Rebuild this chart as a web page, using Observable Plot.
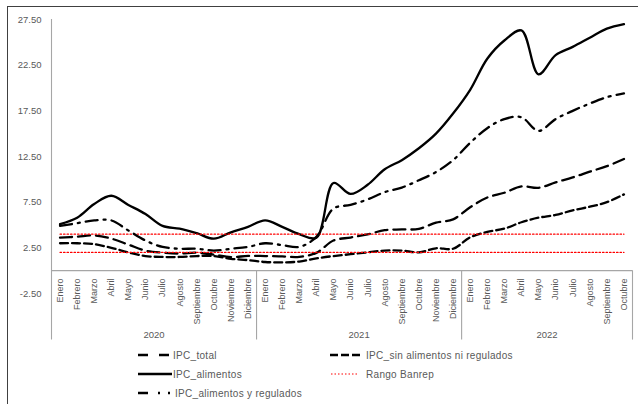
<!DOCTYPE html>
<html>
<head>
<meta charset="utf-8">
<script src="https://cdn.jsdelivr.net/npm/d3@7"></script>
<script src="https://cdn.jsdelivr.net/npm/@observablehq/plot@0.6"></script>
<style>
  html, body { margin: 0; padding: 0; background: #fff; width: 638px; height: 404px; overflow: hidden; }
  #wrap { position: relative; width: 638px; height: 404px; font-family: "Liberation Sans", Arial, sans-serif; }
  #frame { position: absolute; left: 7px; top: 6px; width: 700px; height: 500px; border: 1.3px solid #404040; box-sizing: border-box; }
  #chart { position: absolute; left: 0; top: 0; }
  #legend { position: absolute; left: 0; top: 0; }
</style>
</head>
<body>
<div id="wrap">
  <div id="frame"></div>
  <div id="chart"></div>
  <svg id="legend" width="638" height="404"></svg>
</div>
<script>
// ---- Data ----
const meses = ["Enero","Febrero","Marzo","Abril","Mayo","Junio","Julio","Agosto","Septiembre","Octubre","Noviembre","Diciembre"];
const anios = ["2020", "2021", "2022"];
const mesesPorAnio = [12, 12, 10];
const etiquetasMes = [...meses, ...meses, ...meses.slice(0, 10)];

const ipcTotal = [3.62,3.72,3.86,3.51,2.85,2.19,1.97,1.88,1.97,1.75,1.49,1.61,
                  1.60,1.56,1.51,1.95,3.30,3.63,3.97,4.44,4.51,4.58,5.26,5.62,
                  6.94,8.01,8.53,9.23,9.07,9.67,10.21,10.84,11.44,12.22];
const ipcSinAlimReg = [3.0,3.0,2.9,2.5,2.0,1.6,1.5,1.5,1.6,1.6,1.3,1.15,
                       0.95,0.9,1.0,1.35,1.6,1.8,2.0,2.2,2.2,2.0,2.45,2.4,
                       3.65,4.25,4.6,5.3,5.8,6.1,6.6,7.0,7.5,8.35];
const ipcAlimentos = [5.1,5.8,7.3,8.2,7.2,6.2,4.9,4.6,4.1,3.5,4.2,4.8,
                      5.5,4.8,4.0,3.6,9.6,8.4,9.4,11.1,12.1,13.4,15.0,17.2,
                      19.8,23.2,25.2,26.3,21.5,23.6,24.5,25.5,26.5,27.0];
const ipcAlimReg = [4.9,5.2,5.5,5.5,4.4,3.3,2.6,2.4,2.4,2.2,2.4,2.6,
                    3.0,2.8,2.6,3.7,6.8,7.2,7.8,8.6,9.1,9.9,10.8,12.1,
                    14.0,15.6,16.6,16.8,15.3,16.6,17.5,18.3,19.0,19.4];
const rangoInf = 2;
const rangoSup = 4;
const yTicks = [-2.5, 2.5, 7.5, 12.5, 17.5, 22.5, 27.5];

// ---- Derived ----
const n = etiquetasMes.length;
const idx = d3.range(n);
const cortes = [-0.5];
let acc = 0;
const centrosAnio = [];
mesesPorAnio.forEach(m => { centrosAnio.push(acc + (m - 1) / 2); acc += m; cortes.push(acc - 0.5); });

const axisGray = "#a6a6a6";
const textGray = "#595959";
const lw = 2.3;
const yBottom = -7.6;   // bottom of the category box
const yMonth = -0.86;   // top of month labels
const yYear = -7.0;     // year labels

const series = (vals) => idx.map(i => ({i, v: vals[i]}));

const chart = Plot.plot({
  width: 638,
  height: 345,
  marginLeft: 51,
  marginRight: 6,
  marginTop: 19,
  marginBottom: 52,
  x: {domain: [-0.5, n - 0.5], axis: null},
  y: {domain: [-2.5, 27.5], axis: null},
  style: {fontFamily: "Liberation Sans, Arial, sans-serif", color: textGray, background: "transparent", overflow: "visible"},
  marks: [
    Plot.axisY(yTicks, {anchor: "left", tickSize: 0, tickPadding: 10, tickFormat: d => d.toFixed(2), fontSize: 9.5, fill: textGray, label: null}),
    // value axis line (left) and category axis
    Plot.ruleX([cortes[0]], {y1: 27.5, y2: yBottom, stroke: axisGray, strokeWidth: 1.1}),
    Plot.ruleX(cortes.slice(1), {y1: 0, y2: yBottom, stroke: axisGray, strokeWidth: 1.1}),
    Plot.ruleY([0], {x1: -0.5, x2: n - 0.5, stroke: axisGray, strokeWidth: 1.1}),
    Plot.text(idx, {x: d => d, y: yMonth, text: d => etiquetasMes[d], rotate: -90, textAnchor: "end", fontSize: 9, fill: textGray}),
    Plot.text(anios, {x: (d, i) => centrosAnio[i], y: yYear, text: d => d, fontSize: 9.5, fill: textGray}),
    // series
    Plot.line(series(ipcTotal), {x: "i", y: "v", curve: "catmull-rom", stroke: "#000", strokeWidth: lw, strokeDasharray: "12,6"}),
    Plot.line(series(ipcSinAlimReg), {x: "i", y: "v", curve: "catmull-rom", stroke: "#000", strokeWidth: lw, strokeDasharray: "8,4"}),
    Plot.line(series(ipcAlimentos), {x: "i", y: "v", curve: "catmull-rom", stroke: "#000", strokeWidth: lw}),
    Plot.line(idx.map(i => ({i, v: rangoSup})), {x: "i", y: "v", stroke: "#ff0000", strokeWidth: 1.2, strokeDasharray: "1.5,2"}),
    Plot.line(idx.map(i => ({i, v: rangoInf})), {x: "i", y: "v", stroke: "#ff0000", strokeWidth: 1.2, strokeDasharray: "1.5,2"}),
    Plot.line(series(ipcAlimReg), {x: "i", y: "v", curve: "catmull-rom", stroke: "#000", strokeWidth: lw, strokeDasharray: "12,6,2,6"})
  ]
});
document.getElementById("chart").appendChild(chart);

// ---- Legend ----
const leg = d3.select("#legend");
const items = [
  {label: "IPC_total", x1: 138, x2: 170, tx: 173, y: 355, dash: "10,11", color: "#000", w: lw},
  {label: "IPC_sin alimentos ni regulados", x1: 330, x2: 360, tx: 366, y: 355, dash: "8,3", color: "#000", w: lw},
  {label: "IPC_alimentos", x1: 138, x2: 172, tx: 173, y: 374, dash: null, color: "#000", w: lw},
  {label: "Rango Banrep", x1: 331, x2: 358, tx: 366, y: 374, dash: "1.5,2", color: "#ff0000", w: 1.2},
  {label: "IPC_alimentos y regulados", x1: 138, x2: 171, tx: 175, y: 393, dash: "10,10,2,8,2,20", color: "#000", w: lw}
];
items.forEach(it => {
  leg.append("line").attr("x1", it.x1).attr("x2", it.x2).attr("y1", it.y).attr("y2", it.y)
    .attr("stroke", it.color).attr("stroke-width", it.w).attr("stroke-dasharray", it.dash);
  leg.append("text").attr("x", it.tx).attr("y", it.y).attr("dy", "0.35em")
    .attr("font-size", 10).attr("letter-spacing", 0.3).attr("fill", textGray)
    .attr("font-family", "Liberation Sans, Arial, sans-serif").text(it.label);
});
</script>
</body>
</html>
